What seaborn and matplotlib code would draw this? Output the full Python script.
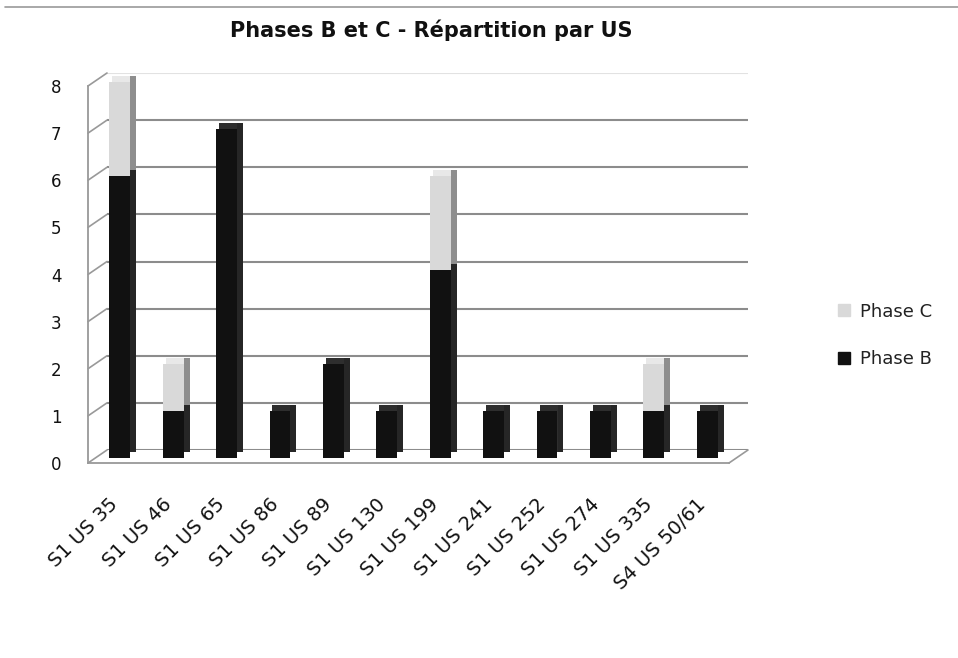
import matplotlib
matplotlib.use("Agg")
import matplotlib.pyplot as plt
import matplotlib.transforms as mtransforms
import seaborn as sns
import pandas as pd
from matplotlib.lines import Line2D
from matplotlib.patches import Patch, ConnectionPatch

categories = ["S1 US 35", "S1 US 46", "S1 US 65", "S1 US 86", "S1 US 89", "S1 US 130",
              "S1 US 199", "S1 US 241", "S1 US 252", "S1 US 274", "S1 US 335", "S4 US 50/61"]
phase_b = [6, 1, 7, 1, 2, 1, 4, 1, 1, 1, 1, 1]
phase_c = [2, 1, 0, 0, 0, 0, 2, 0, 0, 0, 1, 0]
yticks = [0, 1, 2, 3, 4, 5, 6, 7, 8]

df = pd.DataFrame({"US": categories, "B": phase_b, "C": phase_c})
df["Total"] = df["B"] + df["C"]

sns.set_theme(style="white")
plt.rcParams["font.family"] = ["DejaVu Sans"]

W, H = 958, 658
fig = plt.figure(figsize=(W / 100, H / 100), dpi=100)

def px_axes(left, right, y0, ytop, zorder):
    a = fig.add_axes([left / W, 1 - y0 / H, (right - left) / W, (y0 - ytop) / H])
    a.set_zorder(zorder)
    a.patch.set_alpha(0)
    return a

n = len(categories)
XL = (-0.5, n - 0.5)
YL = (0, 8)
GRID = "#8c8c8c"

# back wall (gridlines)
back = px_axes(107, 748, 450, 73, 0)
back.set_xlim(*XL); back.set_ylim(*YL)
back.set_yticks(yticks)
back.yaxis.grid(True, color=GRID, linewidth=1.5)
back.set_xticks([]); back.tick_params(axis="y", length=0, labelleft=False)
for s in back.spines.values():
    s.set_visible(False)
back.get_ygridlines()[-1].set_color("#e2e2e2")

FRONT_W = 0.39

def bar_layer(dx, dy, width, c_total, c_b, z):
    a = px_axes(93 + dx, 734 + dx, 458 + dy, 82 + dy, z)
    sns.barplot(data=df, x="US", y="Total", color=c_total, width=width,
                saturation=1, ax=a, linewidth=0)
    sns.barplot(data=df, x="US", y="B", color=c_b, width=width,
                saturation=1, ax=a, linewidth=0)
    a.set_xlim(*XL); a.set_ylim(*YL)
    a.axis("off")
    return a

# side faces, top faces, then front faces (pseudo 3D)
bar_layer(6, -6, FRONT_W, "#8e8e8e", "#262626", 1)
bar_layer(1.5, -6, 0.337, "#e8e8e8", "#2e2e2e", 2)
bar_layer(0, 0, FRONT_W, "#d9d9d9", "#111111", 3)

# front axes with labels
front = px_axes(88, 729, 463, 86, 4)
front.set_xlim(*XL); front.set_ylim(*YL)
front.set_yticks(yticks)
front.set_yticklabels([str(v) for v in yticks], fontsize=12, color="#111111")
front.tick_params(axis="y", direction="out", length=6, width=1.3, color="#999999", pad=13)
front.set_xticks(range(n))
front.set_xticklabels(categories, rotation=45, ha="right", rotation_mode="anchor",
                      fontsize=14, color="#111111")
front.tick_params(axis="x", which="major", length=0, pad=23)
shift = mtransforms.ScaledTranslation(-6 / 100, 0, fig.dpi_scale_trans)
for lab in front.get_xticklabels():
    lab.set_transform(lab.get_transform() + shift)
front.set_xticks([i - 0.5 for i in range(n + 1)], minor=True)
front.tick_params(axis="x", which="minor", direction="out", length=5, width=1.3, color="#999999")
for s in ["top", "right"]:
    front.spines[s].set_visible(False)
for s in ["left", "bottom"]:
    front.spines[s].set_color("#999999")
    front.spines[s].set_linewidth(1.3)

# depth connectors from front axis to back wall
for v in yticks:
    cp = ConnectionPatch(xyA=(XL[0], v), coordsA=front.transData,
                         xyB=(XL[0], v), coordsB=back.transData,
                         color="#999999", linewidth=1.2)
    fig.add_artist(cp)
cp = ConnectionPatch(xyA=(XL[1], 0), coordsA=front.transData,
                     xyB=(XL[1], 0), coordsB=back.transData,
                     color="#999999", linewidth=1.2)
fig.add_artist(cp)

fig.text(0.45, 0.954, "Phases B et C - Répartition par US", ha="center", va="center",
         fontsize=15, fontweight="bold", color="#111111")

handles = [Patch(facecolor="#d9d9d9", edgecolor="#d9d9d9", label="Phase C"),
           Patch(facecolor="#111111", edgecolor="#111111", label="Phase B")]
fig.legend(handles=handles, loc="center left", bbox_to_anchor=(838 / W, 1 - 335.5 / H),
           frameon=False, fontsize=13, handlelength=0.65, handleheight=0.65,
           labelspacing=1.65, handletextpad=0.55, borderpad=0, borderaxespad=0,
           labelcolor="#222222")

fig.add_artist(Line2D([0.005, 1], [1 - 7 / H, 1 - 7 / H], color="#9a9a9a", linewidth=1.2,
                      transform=fig.transFigure))

fig.savefig("out.png", dpi=100, facecolor="white")
